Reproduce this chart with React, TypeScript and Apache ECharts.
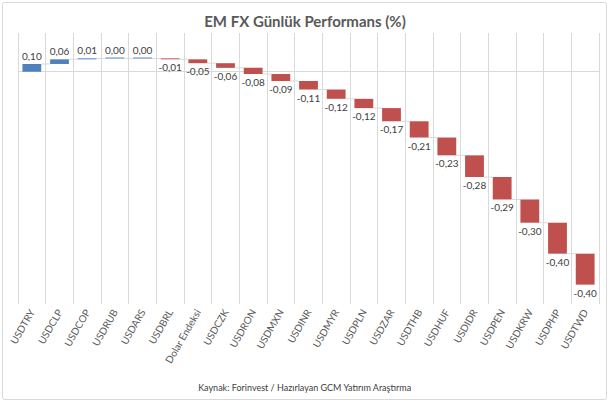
import React, { useEffect, useRef } from 'react';
import * as echarts from 'echarts';

const categories = [
  'USDTRY', 'USDCLP', 'USDCOP', 'USDRUB', 'USDARS', 'USDBRL', 'Dolar Endeksi', 'USDCZK',
  'USDRON', 'USDMXN', 'USDINR', 'USDMYR', 'USDPLN', 'USDZAR', 'USDTHB', 'USDHUF',
  'USDIDR', 'USDPEN', 'USDKRW', 'USDPHP', 'USDTWD',
];
const values = [
  0.10, 0.06, 0.01, 0.0, 0.0, -0.01, -0.05, -0.06, -0.08, -0.09, -0.11, -0.12, -0.12,
  -0.17, -0.21, -0.23, -0.28, -0.29, -0.30, -0.40, -0.40,
];

const blue = '#4f81bd';
const red = '#c0504d';
const font = 'Lato, "Open Sans", sans-serif';

const fmt = (v: number) => v.toFixed(2).replace('.', ',');

const App: React.FC = () => {
  const chartRef = useRef<HTMLDivElement>(null);

  useEffect(() => {
    if (!chartRef.current) return;
    const chart = echarts.init(chartRef.current, undefined, { renderer: 'svg' });

    // waterfall levels
    const ends: number[] = [];
    let cum = 0;
    values.forEach((v) => {
      cum += v;
      ends.push(cum);
    });
    const starts = ends.map((e, i) => e - values[i]);
    const bases = starts.map((s, i) => Math.min(s, ends[i]));
    const heights = values.map((v) => Math.abs(v));

    const option: echarts.EChartsOption = {
      animation: false,
      title: {
        text: 'EM FX Günlük Performans (%)',
        left: 'center',
        top: 8,
        textStyle: { fontFamily: font, fontSize: 15, fontWeight: 'bold', color: '#595959' },
      },
      grid: { left: 18, right: 11, top: 33, bottom: 101 },
      xAxis: {
        type: 'category',
        data: categories,
        axisLine: { lineStyle: { color: '#d9d9d9' } },
        axisTick: { show: false },
        splitLine: { show: true, lineStyle: { color: '#d9d9d9', width: 1 } },
        axisLabel: {
          rotate: 60,
          interval: 0,
          margin: 6,
          fontFamily: font,
          fontSize: 10,
          color: '#595959',
        },
      },
      yAxis: {
        type: 'value',
        min: -3,
        max: 0.5,
        show: false,
        splitLine: { show: false },
      },
      series: [
        {
          type: 'custom',
          silent: true,
          z: 1,
          data: ends.slice(0, -1).map((e, i) => [i, e]),
          encode: { x: 0, y: 1 },
          renderItem: (params: any, api: any) => {
            const i = api.value(0);
            const lvl = api.value(1);
            const p1 = api.coord([i, lvl]);
            const p2 = api.coord([i + 1, lvl]);
            const bw = api.size([1, 0])[0] * 0.68;
            return {
              type: 'line',
              shape: { x1: p1[0] + bw / 2, y1: p1[1], x2: p2[0] - bw / 2, y2: p2[1] },
              style: { stroke: '#d9d9d9', lineWidth: 1 },
            };
          },
        },
        {
          type: 'bar',
          stack: 'wf',
          stackStrategy: 'all',
          silent: true,
          barCategoryGap: '32%',
          itemStyle: { color: 'transparent' },
          data: bases,
        } as any,
        {
          type: 'bar',
          stack: 'wf',
          stackStrategy: 'all',
          barMinHeight: 1,
          z: 3,
          data: heights.map((h, i) => ({
            value: h,
            itemStyle: { color: values[i] >= 0 ? blue : red },
            label: {
              show: true,
              position: values[i] >= 0 ? 'top' : 'bottom',
              distance: 3,
              formatter: () => fmt(values[i]),
              fontFamily: font,
              fontSize: 10,
              color: '#404040',
            },
          })),
        } as any,
      ],
      graphic: [
        {
          type: 'rect',
          shape: { x: 2.5, y: 2.5, width: 604, height: 397, r: 2 },
          style: { fill: 'none', stroke: '#d9d9d9', lineWidth: 1 },
          silent: true,
        },
        {
          type: 'text',
          left: 'center',
          top: 383,
          style: {
            text: 'Kaynak: Forinvest / Hazırlayan GCM Yatırım Araştırma',
            fontFamily: font,
            fontSize: 9,
            fill: '#404040',
          },
        },
      ],
    };

    chart.setOption(option);
    return () => {
      chart.dispose();
    };
  }, []);

  return (
    <div
      ref={chartRef}
      style={{ position: 'absolute', left: 0, top: 0, width: 610, height: 405, background: '#fff' }}
    />
  );
};

export default App;
